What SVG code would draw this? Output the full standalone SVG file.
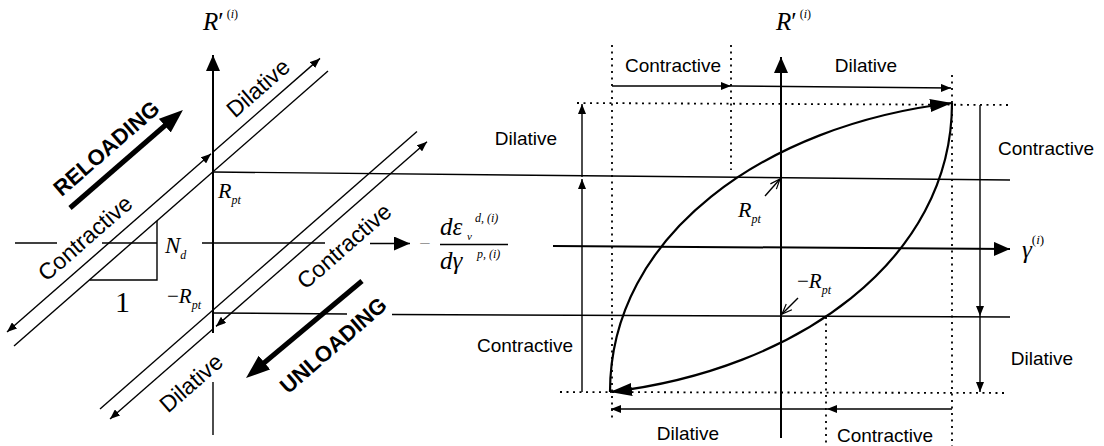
<svg xmlns="http://www.w3.org/2000/svg" width="1104" height="446" viewBox="0 0 1104 446">
<style>
.ln{stroke:#000;stroke-width:1.4;fill:none}
.ax{stroke:#000;stroke-width:2;fill:none}
.dt{stroke:#000;stroke-width:1.8;fill:none;stroke-dasharray:2 4.5}
.cv{stroke:#000;stroke-width:2.2;fill:none}
.bl{stroke:#000;stroke-width:5;fill:none}
.lb{font-family:"Liberation Sans",Arial,sans-serif;font-size:19px;fill:#000}
.rl{font-family:"Liberation Sans",Arial,sans-serif;font-size:23px;fill:#000}
.bd{font-family:"Liberation Sans",Arial,sans-serif;font-size:22px;font-weight:bold;fill:#000}
.m{font-family:"Liberation Serif","Times New Roman",serif;font-style:italic;fill:#000}
.r{font-family:"Liberation Serif","Times New Roman",serif;fill:#000}
</style>
<defs>
<marker id="a" viewBox="0 0 10 8" refX="10" refY="4" markerWidth="10" markerHeight="8" markerUnits="userSpaceOnUse" orient="auto-start-reverse"><path d="M0,0L10,4L0,8z"/></marker>
<marker id="ax" viewBox="0 0 16 14" refX="16" refY="7" markerWidth="16" markerHeight="14" markerUnits="userSpaceOnUse" orient="auto"><path d="M0,0L16,7L0,14z"/></marker>
<marker id="cvm" viewBox="0 0 22 13" refX="22" refY="6.5" markerWidth="22" markerHeight="13" markerUnits="userSpaceOnUse" orient="auto"><path d="M0,0L22,6.5L0,13z"/></marker>
<marker id="bdm" viewBox="0 0 24 18" refX="14" refY="9" markerWidth="24" markerHeight="18" markerUnits="userSpaceOnUse" orient="auto"><path d="M0,0L24,9L0,18z"/></marker>
<marker id="op" viewBox="-1 -1 12 10" refX="10" refY="4" markerWidth="12" markerHeight="10" markerUnits="userSpaceOnUse" orient="auto"><path d="M0,0L10,4L0,8" fill="none" stroke="#000" stroke-width="1.2"/></marker>
</defs>
<rect width="1104" height="446" fill="#fff"/>

<g id="connectors">
  <!-- left axis -->
  <line class="ax" x1="213" y1="333" x2="213" y2="55" marker-end="url(#ax)"/>
  <line class="ln" x1="213" y1="382" x2="213" y2="435"/>
  <!-- long horizontals -->
  <line class="ln" x1="213" y1="172" x2="1010" y2="180"/>
  <line class="ln" x1="213" y1="313" x2="347" y2="314"/>
  <line class="ln" x1="392" y1="314.5" x2="1010" y2="317"/>
  <line class="ln" x1="15" y1="243" x2="57" y2="243"/>
  <line class="ln" x1="102" y1="243" x2="157" y2="243"/>
  <line class="ln" x1="202" y1="243" x2="325" y2="243"/>
  <line class="ln" x1="370" y1="243.5" x2="410" y2="243.5" marker-end="url(#ax)"/>
  <!-- slope triangle -->
  <polyline class="ln" points="157,221 157,280 89.6,280"/>
  <!-- diagonal lines -->
  <line class="ln" x1="14" y1="346" x2="328" y2="71"/>
  <line class="ln" x1="213" y1="152" x2="320" y2="58.4" marker-end="url(#a)"/>
  <line class="ln" x1="7" y1="332" x2="211" y2="153.8" marker-start="url(#a)" marker-end="url(#a)"/>
  <line class="ln" x1="100" y1="409" x2="417" y2="131.5"/>
  <line class="ln" x1="427" y1="141.8" x2="216" y2="326.4" marker-start="url(#a)" marker-end="url(#a)"/>
  <line class="ln" x1="213" y1="329" x2="110" y2="419" marker-end="url(#a)"/>
  <!-- bold arrows -->
  <line class="bl" x1="70" y1="208" x2="175.4" y2="116.5" marker-end="url(#bdm)"/>
  <line class="bl" x1="362" y1="281" x2="253.7" y2="371.6" marker-end="url(#bdm)"/>

  <!-- right axes -->
  <line class="ax" x1="781" y1="438" x2="781" y2="57" marker-end="url(#ax)"/>
  <line class="ax" x1="553" y1="246" x2="1010" y2="249" marker-end="url(#ax)"/>
  <!-- dotted guides -->
  <line class="dt" x1="612" y1="45" x2="612" y2="418"/>
  <line class="dt" x1="731" y1="45" x2="731" y2="170"/>
  <line class="dt" x1="577" y1="103" x2="1010" y2="105"/>
  <line class="dt" x1="952" y1="75" x2="952" y2="446"/>
  <line class="dt" x1="560" y1="392" x2="1005" y2="393"/>
  <line class="dt" x1="826" y1="317" x2="826" y2="446"/>
  <!-- dimension arrows -->
  <line class="ln" x1="612" y1="86" x2="731" y2="86" marker-end="url(#a)"/>
  <line class="ln" x1="731" y1="86" x2="951" y2="88" marker-end="url(#a)"/>
  <line class="ln" x1="582" y1="392" x2="582" y2="179" marker-end="url(#a)"/>
  <line class="ln" x1="582" y1="177" x2="582" y2="104" marker-end="url(#a)"/>
  <line class="ln" x1="980" y1="105" x2="980" y2="316" marker-end="url(#a)"/>
  <line class="ln" x1="980" y1="316" x2="980" y2="392" marker-end="url(#a)"/>
  <line class="ln" x1="952" y1="409" x2="827" y2="409" marker-end="url(#a)"/>
  <line class="ln" x1="826" y1="409" x2="611" y2="409" marker-end="url(#a)"/>
  <!-- hysteresis curves -->
  <path class="cv" d="M610,392 C610,235 765,125 952,103" marker-end="url(#cvm)"/>
  <path class="cv" d="M952,103 C952,260 797,370 610,392" marker-end="url(#cvm)"/>
  <!-- pointers -->
  <line class="ln" x1="765" y1="196" x2="780" y2="179" marker-end="url(#op)"/>
  <line class="ln" x1="798" y1="298" x2="782" y2="314" marker-end="url(#op)"/>
</g>

<g id="left-labels">
  <text class="m" x="203" y="30" font-size="25">R<tspan font-style="normal">′</tspan><tspan font-size="12" dy="-12" font-style="normal"> (</tspan><tspan font-size="12">i</tspan><tspan font-size="12" font-style="normal">)</tspan></text>
  <text class="m" x="218" y="198" font-size="22">R<tspan font-size="12" dy="6">pt</tspan></text>
  <text class="m" x="165" y="253" font-size="23">N<tspan font-size="12" dy="6">d</tspan></text>
  <text class="r" x="115" y="312" font-size="30">1</text>
  <text class="m" x="167" y="303" font-size="21"><tspan font-style="normal">−</tspan>R<tspan font-size="12" dy="6">pt</tspan></text>
  <text class="bd" transform="translate(106,148) rotate(-41)" x="0" y="8" text-anchor="middle">RELOADING</text>
  <text class="bd" transform="translate(333,345) rotate(-41)" x="0" y="8" text-anchor="middle">UNLOADING</text>
  <text class="rl" transform="translate(258,88) rotate(-41.2)" x="0" y="8" text-anchor="middle">Dilative</text>
  <text class="rl" transform="translate(85,238) rotate(-41.2)" x="0" y="8" text-anchor="middle">Contractive</text>
  <text class="rl" transform="translate(344,246) rotate(-41.2)" x="0" y="8" text-anchor="middle">Contractive</text>
  <text class="rl" transform="translate(191,383) rotate(-41.2)" x="0" y="8" text-anchor="middle">Dilative</text>
</g>

<g id="fraction">
  <text class="r" x="425" y="250" font-size="20" text-anchor="middle" style="fill:#999">−</text>
  <text class="m" x="440" y="235" font-size="25">dε</text>
  <text class="m" x="467" y="240" font-size="11">v</text>
  <text class="m" x="475" y="222" font-size="12">d, (i)</text>
  <line class="ln" x1="440" y1="244.5" x2="508" y2="244.5"/>
  <text class="m" x="440" y="269" font-size="25">dγ</text>
  <text class="m" x="477" y="258" font-size="12">p, (i)</text>
</g>

<g id="right-labels">
  <text class="m" x="776" y="30" font-size="25">R<tspan font-style="normal">′</tspan><tspan font-size="12" dy="-12" font-style="normal"> (</tspan><tspan font-size="12">i</tspan><tspan font-size="12" font-style="normal">)</tspan></text>
  <text class="m" x="738" y="217" font-size="22">R<tspan font-size="12" dy="6">pt</tspan></text>
  <text class="m" x="797" y="288" font-size="21"><tspan font-style="normal">−</tspan>R<tspan font-size="12" dy="6">pt</tspan></text>
  <text class="m" x="1022" y="258" font-size="25">γ<tspan font-size="13" dy="-14" font-style="normal">(</tspan><tspan font-size="13">i</tspan><tspan font-size="13" font-style="normal">)</tspan></text>
  <text class="lb" x="673" y="72" text-anchor="middle">Contractive</text>
  <text class="lb" x="866" y="72" text-anchor="middle">Dilative</text>
  <text class="lb" x="526" y="145" text-anchor="middle">Dilative</text>
  <text class="lb" x="525" y="352" text-anchor="middle">Contractive</text>
  <text class="lb" x="1046" y="155" text-anchor="middle">Contractive</text>
  <text class="lb" x="1042" y="365" text-anchor="middle">Dilative</text>
  <text class="lb" x="688" y="440" text-anchor="middle">Dilative</text>
  <text class="lb" x="885" y="442" text-anchor="middle">Contractive</text>
</g>
</svg>
